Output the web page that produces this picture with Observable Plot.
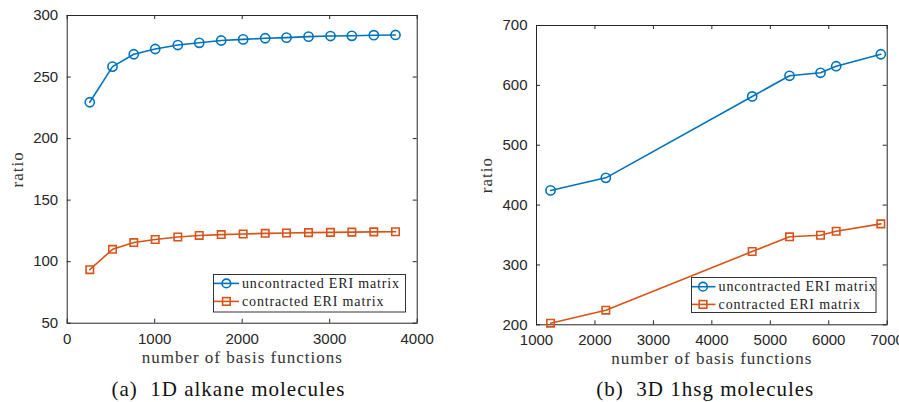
<!DOCTYPE html>
<html>
<head>
<meta charset="utf-8">
<script src="https://cdn.jsdelivr.net/npm/d3@7"></script>
<script src="https://cdn.jsdelivr.net/npm/@observablehq/plot@0.6"></script>
<style>
  body { margin: 0; background: #fff; }
  #wrap { position: relative; width: 899px; height: 402px; overflow: hidden; background: #fff; }
  .panel { position: absolute; top: 0; }
  .caption { position: absolute; font-family: "Liberation Serif", "DejaVu Serif", serif; font-size: 21px; line-height: 21px;
             letter-spacing: 1px; color: #111; white-space: pre; transform: translateX(-50%); }
  .legend { position: absolute; }
</style>
</head>
<body>
<div id="wrap"></div>
<script>
// ---------- data ----------
const alkaneBasis = [258, 518, 761, 1006, 1264, 1509, 1760, 2011, 2263, 2506, 2758, 3009, 3253, 3504, 3752];
const alkaneUncontracted = [229.5, 258.5, 268.5, 272.8, 276, 277.8, 279.7, 280.6, 281.5, 282, 282.8, 283.3, 283.5, 284, 284.2];
const alkaneContracted = [93.5, 110, 115.5, 118, 120, 121.3, 122, 122.5, 123, 123.3, 123.6, 123.8, 124, 124.2, 124.3];

const hsgBasis = [1240, 2186, 4690, 5329, 5859, 6127, 6891];
const hsgUncontracted = [424.5, 445.5, 581.5, 616, 621, 632, 652];
const hsgContracted = [202.7, 224.4, 322.4, 347, 349.6, 356.3, 368.6];

const alkaneXTicks = [0, 1000, 2000, 3000, 4000];
const alkaneYTicks = [50, 100, 150, 200, 250, 300];
const hsgXTicks = [1000, 2000, 3000, 4000, 5000, 6000, 7000];
const hsgYTicks = [200, 300, 400, 500, 600, 700];

const seriesNames = ["uncontracted ERI matrix", "contracted ERI matrix"];
const captions = ["(a)  1D alkane molecules", "(b)  3D 1hsg molecules"];
const xLabel = "number of basis functions";
const yLabel = "ratio";

const BLUE = "#0072BD", ORANGE = "#D95319", AX = "#262626";
const SERIF = "'Liberation Serif', 'DejaVu Serif', serif";

function panel(opts) {
  const {basis, unc, con, xDomain, yDomain, xTicks, yTicks, width, height, ml, mr, mt, mb} = opts;
  const fw = width - ml - mr, fh = height - mt - mb;
  const rowsU = basis.map((b, i) => ({x: b, y: unc[i]}));
  const rowsC = basis.map((b, i) => ({x: b, y: con[i]}));
  const svg = Plot.plot({
    width, height,
    marginLeft: ml, marginRight: mr, marginTop: mt, marginBottom: mb,
    style: {fontFamily: "'Liberation Sans', Arial, sans-serif", fontSize: "15px", color: AX, background: "transparent", overflow: "hidden"},
    x: {domain: xDomain},
    y: {domain: yDomain},
    marks: [
      Plot.axisX(xTicks, {tickSize: 0, tickPadding: 10, label: null, fontSize: 15, fill: AX, tickFormat: d => String(d)}),
      Plot.axisY(yTicks, {tickSize: 0, tickPadding: 9, label: null, fontSize: 15, fill: AX, tickFormat: d => String(d)}),
      Plot.tickX(xTicks, {x: d => d, insetTop: fh - 4, stroke: AX, strokeWidth: 1}),
      Plot.tickX(xTicks, {x: d => d, insetBottom: fh - 4, stroke: AX, strokeWidth: 1}),
      Plot.tickY(yTicks, {y: d => d, insetRight: fw - 4, stroke: AX, strokeWidth: 1}),
      Plot.tickY(yTicks, {y: d => d, insetLeft: fw - 4, stroke: AX, strokeWidth: 1}),
      Plot.frame({stroke: AX, strokeWidth: 1}),
      Plot.line(rowsU, {x: "x", y: "y", stroke: BLUE, strokeWidth: 1.6}),
      Plot.dot(rowsU, {x: "x", y: "y", stroke: BLUE, strokeWidth: 1.6, r: 4.6, symbol: "circle", fill: "none"}),
      Plot.line(rowsC, {x: "x", y: "y", stroke: ORANGE, strokeWidth: 1.6}),
      Plot.dot(rowsC, {x: "x", y: "y", stroke: ORANGE, strokeWidth: 1.6, r: 4.2, symbol: "square", fill: "none"}),
      Plot.text([xLabel], {text: d => d, frameAnchor: "bottom", dy: 34, textAnchor: "middle", lineAnchor: "middle",
        fontFamily: SERIF, fontSize: 17, fill: "#333"}),
      Plot.text([yLabel], {text: d => d, frameAnchor: "left", dx: -50, rotate: -90, textAnchor: "middle", lineAnchor: "middle",
        fontFamily: SERIF, fontSize: 17, fill: "#333"})
    ]
  });
  svg.querySelectorAll('g[aria-label="text"] text').forEach(t => t.style.letterSpacing = "1px");
  return svg;
}

function legend(cfg) {
  const {left, top, w, h, rows, x1, x2, mx, tx} = cfg;
  const svg = d3.create("svg").attr("class", "legend").attr("width", w + 1).attr("height", h + 1)
    .style("left", left + "px").style("top", top + "px");
  svg.append("rect").attr("x", 0.5).attr("y", 0.5).attr("width", w - 1).attr("height", h - 1)
    .attr("fill", "#fff").attr("stroke", "#333").attr("stroke-width", 1);
  const colors = [BLUE, ORANGE];
  seriesNames.forEach((name, i) => {
    const y = rows[i];
    svg.append("line").attr("x1", x1).attr("x2", x2).attr("y1", y).attr("y2", y)
      .attr("stroke", colors[i]).attr("stroke-width", 1.6);
    if (i === 0) {
      svg.append("circle").attr("cx", mx).attr("cy", y).attr("r", 4.3).attr("fill", "none")
        .attr("stroke", colors[i]).attr("stroke-width", 1.6);
    } else {
      svg.append("rect").attr("x", mx - 3.8).attr("y", y - 3.8).attr("width", 7.6).attr("height", 7.6)
        .attr("fill", "none").attr("stroke", colors[i]).attr("stroke-width", 1.6);
    }
    svg.append("text").attr("x", tx).attr("y", y + 4.6).text(name)
      .attr("font-family", SERIF).attr("font-size", 14)
      .style("letter-spacing", "0.85px").attr("fill", "#222");
  });
  return svg.node();
}

const wrap = document.getElementById("wrap");

const left = panel({basis: alkaneBasis, unc: alkaneUncontracted, con: alkaneContracted,
  xDomain: [0, 4000], yDomain: [50, 300], xTicks: alkaneXTicks, yTicks: alkaneYTicks,
  width: 450, height: 370, ml: 66.7, mr: 33.3, mt: 15, mb: 47.3});
left.classList.add("panel");
left.style.left = "0px";
wrap.appendChild(left);

const right = panel({basis: hsgBasis, unc: hsgUncontracted, con: hsgContracted,
  xDomain: [1000, 7000], yDomain: [200, 700], xTicks: hsgXTicks, yTicks: hsgYTicks,
  width: 449, height: 370, ml: 86, mr: 12.3, mt: 25, mb: 45.7});
right.classList.add("panel");
right.style.left = "450px";
wrap.appendChild(right);

wrap.appendChild(legend({left: 213.3, top: 274.3, w: 193, h: 38.5, rows: [9.4, 27.4], x1: 1, x2: 26, mx: 13.4, tx: 29}));
wrap.appendChild(legend({left: 690.7, top: 277.3, w: 185.5, h: 36, rows: [9.7, 27.4], x1: 1, x2: 24.5, mx: 12, tx: 27.6}));

[[captions[0], 228.4], [captions[1], 705.3]].forEach(([txt, cx]) => {
  const d = document.createElement("div");
  d.className = "caption";
  d.textContent = txt;
  d.style.left = cx + "px";
  d.style.top = "379.4px";
  wrap.appendChild(d);
});
</script>
</body>
</html>
